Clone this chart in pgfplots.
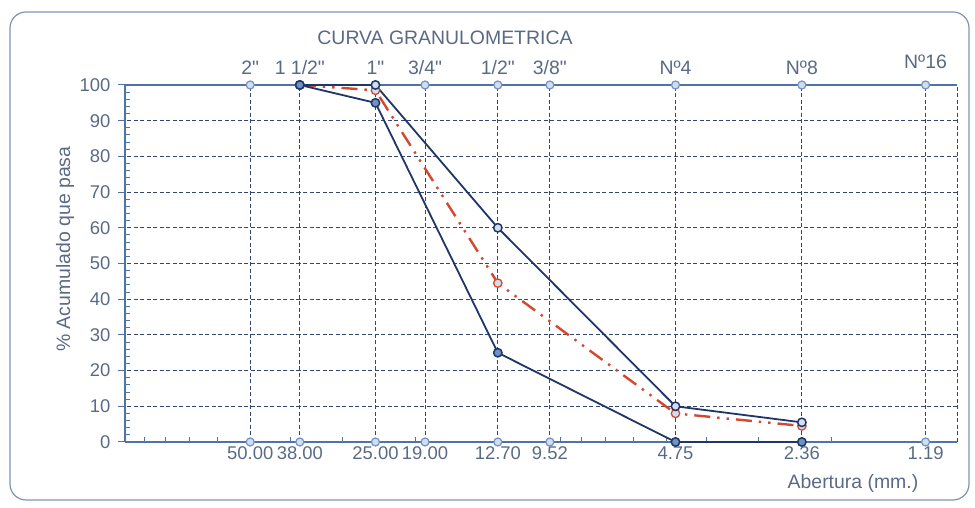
\documentclass[border=0pt]{standalone}
\usepackage{fontspec}
\setmainfont{Liberation Sans}[Ligatures=TeXOff]
\usepackage{pgfplots}
\pgfplotsset{compat=1.18}
\definecolor{txt}{HTML}{5A6A86}
\definecolor{axl}{HTML}{4F72A8}
\definecolor{grd}{HTML}{34466E}
\definecolor{navy}{HTML}{1F3668}
\definecolor{redc}{HTML}{D5472E}
\definecolor{mk}{HTML}{6F92C4}
\definecolor{mkf}{HTML}{D2DEEE}
\definecolor{framec}{HTML}{7D95B5}
\newcommand\fs{\fontsize{19.5}{23}\selectfont}
\newcommand\ft{\fontsize{18.5}{22}\selectfont}
\begin{document}
\begin{tikzpicture}[x=1bp,y=1bp]
\useasboundingbox (0,0) rectangle (975,508);
\draw[framec, line width=1.2bp, rounded corners=16bp] (10,8) rectangle (969,496);
\node[txt, font=\fs] at (445,470) {CURVA GRANULOMETRICA};
\begin{axis}[at={(125bp,66bp)}, anchor=south west, scale only axis,
  width=832bp, height=357bp,
  xmode=log, x dir=reverse, xmin=1, xmax=100, ymin=0, ymax=100,
  xtick={50,38,25,19,12.7,9.52,4.75,2.36,1.19},
  xticklabels={50.00,38.00,25.00,19.00,12.70,9.52,4.75,2.36,1.19},
  minor xtick={2,3,4,5,6,7,8,9,20,30,40,60,70,80,90},
  ytick={0,10,...,100}, minor y tick num=4,
  xtick pos=bottom, ytick pos=left,
  tick align=inside,
  major tick length=7bp, minor tick length=5bp,
  major x tick style={draw=none},
  major y tick style={axl, line width=1bp, xshift=-7bp},
  minor tick style={axl, line width=1bp},
  grid=major,
  major grid style={grd, line width=1bp, dash pattern=on 4bp off 2.5bp},
  axis line style={draw=none},
  /pgf/number format/assume math mode=true,
  tick label style={font=\ft, text=txt},
  yticklabel style={xshift=-11bp},
  xticklabel style={yshift=-1bp},
  clip=false,
]
\draw[axl, line width=1.4bp] (axis description cs:0,0) -- (axis description cs:1,0);
\draw[axl, line width=1.4bp] (axis description cs:0,1) -- (axis description cs:1,1);
\draw[axl, line width=1.4bp] (axis description cs:0,0) -- (axis description cs:0,1);
\draw[grd, line width=1bp, dash pattern=on 4bp off 2.5bp] (axis description cs:1,0) -- (axis description cs:1,1);

\addplot[only marks, mark=*, mark size=4bp, mk, mark options={fill=mkf, draw=mk, line width=1.2bp}]
  coordinates {(50,0)(38,0)(25,0)(19,0)(12.7,0)(9.52,0)(4.75,0)(2.36,0)(1.19,0)};
\addplot[only marks, mark=*, mark size=4bp, mk, mark options={fill=mkf, draw=mk, line width=1.2bp}]
  coordinates {(50,100)(38,100)(25,100)(19,100)(12.7,100)(9.52,100)(4.75,100)(2.36,100)(1.19,100)};

\addplot[redc, line width=2.4bp, dash pattern=on 16bp off 7bp on 2.4bp off 7bp on 2.4bp off 7bp,
  mark=*, mark size=4.2bp, mark options={solid, fill=mkf, draw=redc, line width=1.3bp}]
  coordinates {(38,100)(25,98.5)(12.7,44.5)(4.75,8)(2.36,4.5)};
\addplot[navy, line width=1.8bp, mark=*, mark size=4.2bp, mark options={fill=mkf, line width=1.5bp, draw=navy}]
  coordinates {(38,100)(25,100)(12.7,60)(4.75,10)(2.36,5.5)};
\addplot[navy, line width=1.8bp, mark=*, mark size=4.2bp, mark options={fill=mk, line width=1.5bp, draw=navy}]
  coordinates {(38,100)(25,95)(12.7,25)(4.75,0)(2.36,0)};

\node[txt, font=\fs, anchor=south, yshift=7bp] at (axis cs:50,100) {2"};
\node[txt, font=\fs, anchor=south, yshift=7bp] at (axis cs:38,100) {1 1/2"};
\node[txt, font=\fs, anchor=south, yshift=7bp] at (axis cs:25,100) {1"};
\node[txt, font=\fs, anchor=south, yshift=7bp] at (axis cs:19,100) {3/4"};
\node[txt, font=\fs, anchor=south, yshift=7bp] at (axis cs:12.7,100) {1/2"};
\node[txt, font=\fs, anchor=south, yshift=7bp] at (axis cs:9.52,100) {3/8"};
\node[txt, font=\fs, anchor=south, yshift=7bp] at (axis cs:4.75,100) {Nº4};
\node[txt, font=\fs, anchor=south, yshift=7bp] at (axis cs:2.36,100) {Nº8};
\node[txt, font=\fs, anchor=south, yshift=13bp] at (axis cs:1.19,100) {Nº16};

\node[txt, font=\fs, rotate=90] at (axis description cs:-0.072,0.54) {\% Acumulado que pasa};
\node[txt, font=\fs] at (axis description cs:0.875,-0.115) {Abertura (mm.)};
\end{axis}
\end{tikzpicture}
\end{document}
